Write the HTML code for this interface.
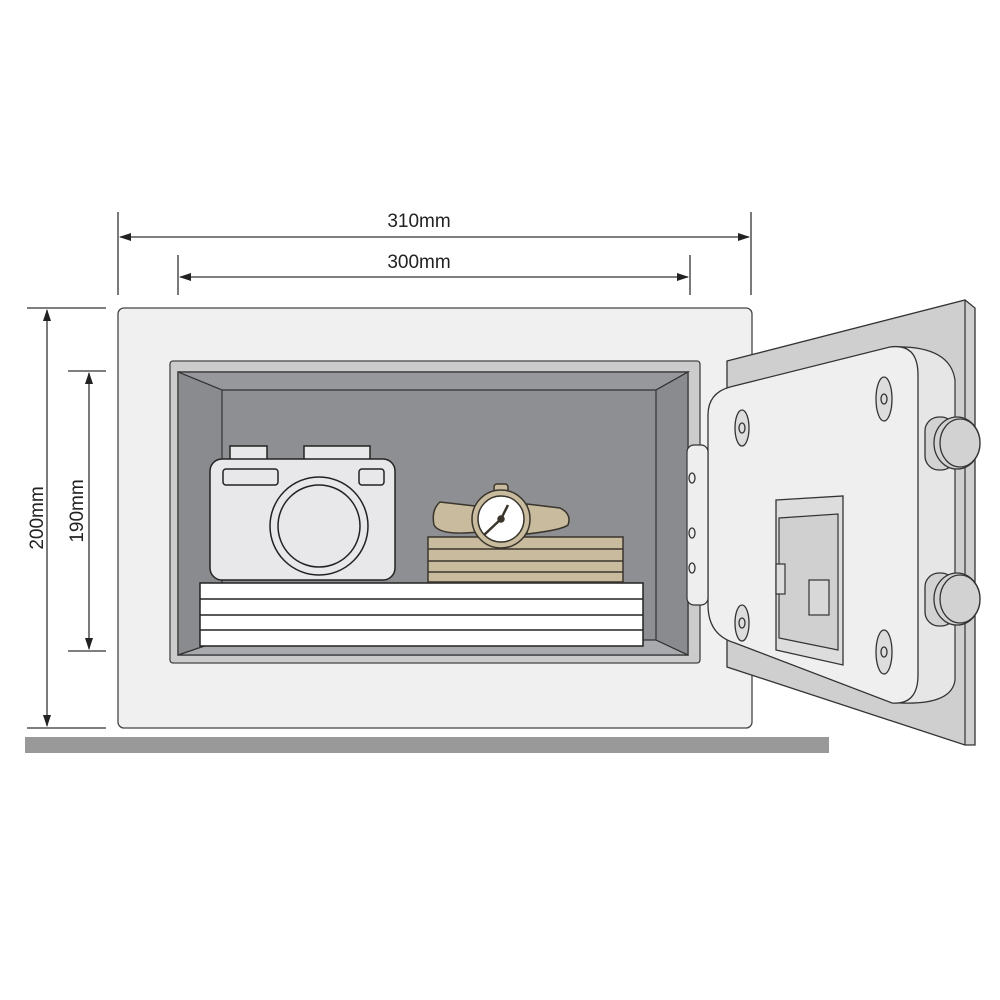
<!DOCTYPE html>
<html><head><meta charset="utf-8"><style>
html,body{margin:0;padding:0;background:#fff;}
svg{display:block;}
text{font-family:"Liberation Sans",sans-serif;font-size:19px;fill:#222;}
</style></head><body>
<svg width="1000" height="1000" viewBox="0 0 1000 1000" xmlns="http://www.w3.org/2000/svg">
<defs>
<marker id="a" markerWidth="12" markerHeight="8" refX="11" refY="4" orient="auto-start-reverse" markerUnits="userSpaceOnUse"><path d="M0,0 L12,4 L0,8 Z" fill="#222"/></marker>
</defs>
<rect width="1000" height="1000" fill="#fff"/>
<g stroke="#333" stroke-width="1.3" fill="none">
<line x1="118" y1="212" x2="118" y2="295"/>
<line x1="751" y1="212" x2="751" y2="295"/>
<line x1="178" y1="255" x2="178" y2="295"/>
<line x1="690" y1="255" x2="690" y2="295"/>
<line x1="120" y1="237" x2="749" y2="237" marker-start="url(#a)" marker-end="url(#a)"/>
<line x1="180" y1="277" x2="688" y2="277" marker-start="url(#a)" marker-end="url(#a)"/>
<line x1="27" y1="308" x2="106" y2="308"/>
<line x1="27" y1="728" x2="106" y2="728"/>
<line x1="68" y1="371" x2="106" y2="371"/>
<line x1="68" y1="651" x2="106" y2="651"/>
<line x1="47" y1="310" x2="47" y2="726" marker-start="url(#a)" marker-end="url(#a)"/>
<line x1="89" y1="373" x2="89" y2="649" marker-start="url(#a)" marker-end="url(#a)"/>
</g>
<text x="419" y="227" text-anchor="middle">310mm</text>
<text x="419" y="268" text-anchor="middle">300mm</text>
<text transform="translate(43,518) rotate(-90)" text-anchor="middle">200mm</text>
<text transform="translate(83,511) rotate(-90)" text-anchor="middle">190mm</text>
<rect x="25" y="737" width="804" height="16" fill="#999"/>
<rect x="118" y="308" width="634" height="420" rx="6" fill="#f0f0f0" stroke="#444" stroke-width="1.3"/>
<rect x="170" y="361" width="530" height="302" rx="3" fill="#ccc" stroke="#444" stroke-width="1.3"/>
<rect x="178" y="372" width="510" height="283" fill="#8e8f93" stroke="#333" stroke-width="1.3"/>
<polygon points="178,372 688,372 656,390 222,390" fill="#97989c" stroke="#333" stroke-width="1.2"/>
<polygon points="178,655 688,655 656,640 222,640" fill="#a9aaad" stroke="#333" stroke-width="1.2"/>
<polygon points="178,372 222,390 222,640 178,655" fill="#8a8b8f" stroke="#333" stroke-width="1.2"/>
<polygon points="688,372 656,390 656,640 688,655" fill="#8a8b8f" stroke="#333" stroke-width="1.2"/>
<g stroke="#222" stroke-width="1.5" fill="#fff">
<rect x="200" y="583" width="443" height="63"/>
<line x1="200" y1="599" x2="643" y2="599"/>
<line x1="200" y1="615" x2="643" y2="615"/>
<line x1="200" y1="630" x2="643" y2="630"/>
</g>
<g stroke="#222" stroke-width="1.5" fill="#e8e8ea">
<rect x="230" y="446" width="37" height="14"/>
<rect x="304" y="446" width="66" height="14"/>
<rect x="210" y="459" width="185" height="121" rx="12"/>
<rect x="223" y="469" width="55" height="16" rx="3"/>
<rect x="359" y="469" width="25" height="16" rx="3"/>
<circle cx="319" cy="526" r="49"/>
<circle cx="319" cy="526" r="41"/>
</g>
<g stroke="#3a352c" stroke-width="1.5" fill="#c8bb9e">
<rect x="428" y="537" width="195" height="45"/>
<line x1="428" y1="549" x2="623" y2="549"/>
<line x1="428" y1="561" x2="623" y2="561"/>
<line x1="428" y1="572" x2="623" y2="572"/>
</g>
<g stroke="#3a352c" stroke-width="1.5">
<path d="M475,506 L440,502 Q431,510 434,525 Q440,536 478,532 Z" fill="#c8bb9e"/>
<path d="M527,504 L560,508 Q572,514 568,525 Q562,530 527,534 Z" fill="#c8bb9e"/>
<rect x="494" y="484" width="14" height="8" rx="3" fill="#c8bb9e"/>
<circle cx="501" cy="519" r="29" fill="#c8bb9e"/>
<circle cx="501" cy="519" r="23" fill="#fff"/>
<line x1="501" y1="519" x2="508" y2="505" stroke-width="2.5"/>
<line x1="501" y1="519" x2="484" y2="535" stroke-width="2.5"/>
<circle cx="501" cy="519" r="3" fill="#3a352c"/>
</g>
<polygon points="727,361 965,300 975,308 975,745 965,745 727,667" fill="#cfcfcf" stroke="#333" stroke-width="1.3"/>
<line x1="965" y1="300" x2="965" y2="745" stroke="#333" stroke-width="1.2"/>
<path d="M892,347 Q950,345 955,380 L955,680 Q952,705 900,703" fill="#e6e6e6" stroke="#333" stroke-width="1.2"/>
<path d="M730,387 L890,347 Q918,343 918,375 L918,675 Q918,705 892,703 L735,643 Q708,635 708,605 L708,415 Q708,393 730,387 Z" fill="#efefef" stroke="#333" stroke-width="1.3"/>
<rect x="687" y="445" width="21" height="160" rx="7" fill="#eee" stroke="#333" stroke-width="1.2"/>
<g fill="none" stroke="#333" stroke-width="1.3">
<ellipse cx="692" cy="478" rx="3" ry="5"/>
<ellipse cx="692" cy="533" rx="3" ry="5"/>
<ellipse cx="692" cy="568" rx="3" ry="5"/>
<ellipse cx="742" cy="428" rx="7" ry="18" fill="#ddd"/><ellipse cx="742" cy="428" rx="3" ry="5"/>
<ellipse cx="884" cy="399" rx="8" ry="22" fill="#ddd"/><ellipse cx="884" cy="399" rx="3" ry="5"/>
<ellipse cx="742" cy="623" rx="7" ry="18" fill="#ddd"/><ellipse cx="742" cy="623" rx="3" ry="5"/>
<ellipse cx="884" cy="652" rx="8" ry="22" fill="#ddd"/><ellipse cx="884" cy="652" rx="3" ry="5"/>
</g>
<g stroke="#333" stroke-width="1.3" fill="#d2d2d2">
<rect x="925" y="417" width="30" height="53" rx="14"/>
<ellipse cx="957" cy="443" rx="23" ry="26"/>
<ellipse cx="960" cy="443" rx="20" ry="24"/>
<rect x="925" y="573" width="30" height="53" rx="14"/>
<ellipse cx="957" cy="599" rx="23" ry="26"/>
<ellipse cx="960" cy="599" rx="20" ry="24"/>
</g>
<polygon points="776,500 843,496 843,665 776,650" fill="#ddd" stroke="#333" stroke-width="1.3"/>
<polygon points="779,518 838,514 838,650 779,638" fill="#d0d0d0" stroke="#333" stroke-width="1.2"/>
<rect x="776" y="564" width="9" height="30" fill="#ddd" stroke="#333" stroke-width="1.2"/>
<rect x="809" y="580" width="20" height="35" fill="#d8d8d8" stroke="#333" stroke-width="1.2"/>
</svg>
</body></html>
